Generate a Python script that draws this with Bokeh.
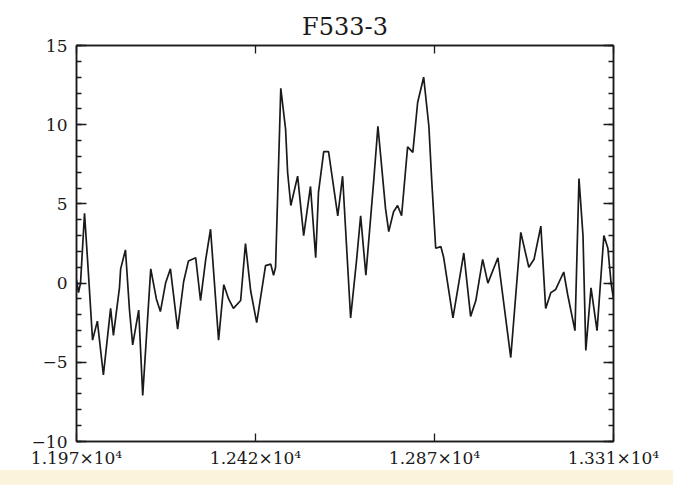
from bokeh.plotting import figure
from bokeh.models import Range1d, FixedTicker, LinearAxis, Div
from bokeh.layouts import column
from bokeh.embed import file_html
from bokeh.resources import INLINE

# Spectrum of F533-3: wavelength samples and flux
wave = [11973, 11978, 11983, 11993, 12003, 12013, 12025, 12040, 12058, 12065,
        12080, 12083, 12095, 12105, 12113, 12128, 12138, 12158, 12172, 12182,
        12195, 12207, 12225, 12240, 12252, 12270, 12282, 12295, 12307, 12327,
        12340, 12352, 12364, 12382, 12394, 12407, 12422, 12444, 12457, 12464,
        12469, 12482, 12494, 12499, 12507, 12524, 12539, 12556, 12569, 12576,
        12589, 12601, 12624, 12636, 12656, 12671, 12681, 12694, 12714, 12724,
        12731, 12743, 12751, 12763, 12773, 12783, 12798, 12811, 12823, 12838,
        12851, 12858, 12868, 12881, 12888, 12911, 12938, 12955, 12968, 12985,
        12998, 13023, 13055, 13080, 13100, 13113, 13130, 13135, 13142, 13155,
        13167, 13187, 13197, 13215, 13225, 13235, 13242, 13255, 13270, 13287,
        13297, 13305, 13311]
flux = [0.2, -0.6, 0.0, 4.4, 0.5, -3.6, -2.4, -5.8, -1.6, -3.3,
        -0.3, 0.9, 2.1, -1.7, -3.9, -1.7, -7.1, 0.9, -1.0, -1.8,
        0.0, 0.9, -2.9, 0.1, 1.4, 1.6, -1.1, 1.5, 3.4, -3.6,
        -0.1, -1.0, -1.6, -1.1, 2.5, -0.5, -2.5, 1.1, 1.2, 0.5,
        1.0, 12.3, 9.7, 7.0, 4.9, 6.75, 3.0, 6.1, 1.6, 5.75,
        8.3, 8.3, 4.25, 6.75, -2.2, 1.5, 4.25, 0.5, 6.6, 9.9,
        8.0, 4.7, 3.25, 4.5, 4.9, 4.25, 8.6, 8.25, 11.4, 13.0,
        9.9, 6.5, 2.2, 2.3, 1.6, -2.2, 1.9, -2.1, -1.1, 1.5,
        0.0, 1.6, -4.7, 3.2, 1.0, 1.5, 3.6, 1.4, -1.6, -0.6,
        -0.4, 0.7, -0.75, -3.0, 6.6, 3.0, -4.25, -0.3, -3.0, 3.0,
        2.2, 0.0, -1.0]

x_ticks = [11973, 12419, 12865, 13311]
x_tick_labels = ["1.197×10⁴", "1.242×10⁴", "1.287×10⁴", "1.331×10⁴"]
y_ticks = [-10, -5, 0, 5, 10, 15]
y_tick_labels = ["−10", "−5", "0", "5", "10", "15"]
y_minor = list(range(-10, 16))

FONT = "DejaVu Serif"
INK = "#1a1a1a"

p = figure(width=673, height=470, output_backend="svg", toolbar_location=None,
           x_range=Range1d(x_ticks[0], x_ticks[-1]), y_range=Range1d(-10, 15),
           x_axis_location=None, y_axis_location=None,
           min_border_left=76, min_border_right=60, min_border_top=45,
           min_border_bottom=25, title="F533-3")
p.title.align = "center"
p.title.text_font = FONT
p.title.text_font_size = "24px"
p.title.text_font_style = "normal"
p.title.text_color = INK
p.grid.visible = False
p.outline_line_color = INK
p.outline_line_width = 1.5
p.background_fill_color = "white"
p.border_fill_color = "white"


def style_axis(ax, major_in, minor_in):
    ax.axis_line_color = INK
    ax.axis_line_width = 1.5
    ax.major_tick_line_color = INK
    ax.minor_tick_line_color = INK
    ax.major_tick_line_width = 1.3
    ax.minor_tick_line_width = 1.3
    ax.major_tick_in = major_in
    ax.major_tick_out = 0
    ax.minor_tick_in = minor_in
    ax.minor_tick_out = 0
    ax.major_label_text_font = FONT
    ax.major_label_text_color = INK
    ax.major_label_text_font_size = "17px"


xt = FixedTicker(ticks=x_ticks, minor_ticks=[])
yt = FixedTicker(ticks=y_ticks, minor_ticks=y_minor)

# labelled axes (bottom, left)
bottom = LinearAxis(ticker=xt, major_label_overrides=dict(zip(x_ticks, x_tick_labels)))
style_axis(bottom, 8, 0)
bottom.major_label_standoff = 6
left = LinearAxis(ticker=yt, major_label_overrides=dict(zip(y_ticks, y_tick_labels)))
style_axis(left, 10, 5)
left.major_label_standoff = 9

# mirrored tick-only axes (top, right)
top = LinearAxis(ticker=xt, major_label_overrides={t: "" for t in x_ticks})
style_axis(top, 8, 0)
top.major_label_standoff = 0
right = LinearAxis(ticker=yt, major_label_overrides={t: "" for t in y_ticks})
style_axis(right, 10, 5)
right.major_label_standoff = 0

p.add_layout(bottom, "below")
p.add_layout(top, "above")
p.add_layout(left, "left")
p.add_layout(right, "right")

p.line(wave, flux, line_color=INK, line_width=1.7)

band = Div(text="", width=673, height=15,
           styles={"background-color": "#fcf3dc", "margin": "0"})

layout = column(p, band, spacing=0)
open("out.html", "w").write(file_html(layout, INLINE))
